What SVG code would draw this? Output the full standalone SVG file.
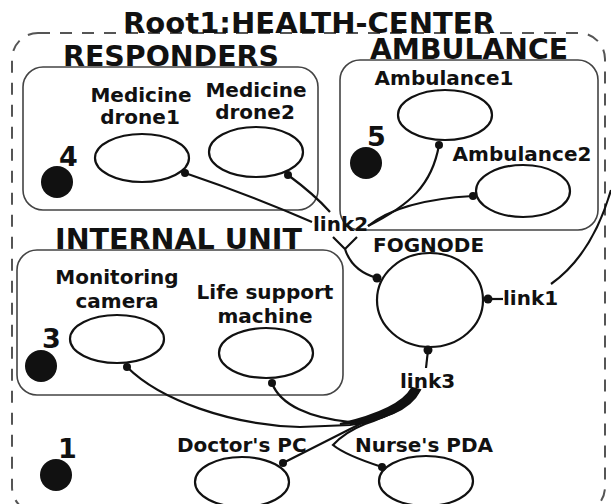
<svg xmlns="http://www.w3.org/2000/svg" width="611" height="504" viewBox="0 0 611 504">
<style>
text{font-family:"DejaVu Sans","Liberation Sans",sans-serif;font-weight:bold;fill:#111}
.t{font-size:28.5px}
.l{font-size:20px}
.n{font-size:27px}
.box{fill:none;stroke:#444;stroke-width:1.6}
.ell{fill:#fff;stroke:#111;stroke-width:2.2}
.c{fill:none;stroke:#111;stroke-width:2.2}
.d{fill:#111}
</style>
<rect width="611" height="504" fill="#fff"/>
<g id="root">
<rect x="12" y="33" width="593" height="480" rx="26" fill="none" stroke="#555" stroke-width="2" stroke-dasharray="12,10"/>
<text class="t" x="123" y="33" textLength="372" lengthAdjust="spacingAndGlyphs">Root1:HEALTH-CENTER</text>
<circle class="d" cx="56" cy="475" r="16"/>
<text class="n" x="58" y="458">1</text>
</g>
<g id="responders">
<rect class="box" x="23" y="67" width="295" height="143" rx="20"/>
<text class="t" x="63" y="66" textLength="216" lengthAdjust="spacingAndGlyphs">RESPONDERS</text>
<circle class="d" cx="57" cy="182" r="16"/>
<text class="n" x="59" y="166">4</text>
</g>
<g id="ambulance">
<rect class="box" x="340" y="60" width="258" height="170" rx="20"/>
<text class="t" x="370" y="59" textLength="198" lengthAdjust="spacingAndGlyphs">AMBULANCE</text>
<circle class="d" cx="366" cy="163" r="16"/>
<text class="n" x="367" y="146">5</text>
</g>
<g id="internal">
<rect class="box" x="17" y="250" width="326" height="145" rx="20"/>
<text class="t" x="55" y="249" textLength="247" lengthAdjust="spacingAndGlyphs">INTERNAL UNIT</text>
<circle class="d" cx="41" cy="366" r="16"/>
<text class="n" x="42" y="348">3</text>
</g>
<g id="connectors">
<path class="c" d="M185,173 Q250,195 312,222"/>
<path class="c" d="M288,175 Q315,195 330,212"/>
<path class="c" d="M439,145 C432,185 410,205 368,226"/>
<path class="c" d="M473,196 Q400,200 368,226"/>
<path class="c" d="M333,237 L345,249 M357,237 L345,249"/>
<path class="c" d="M345,249 Q352,271 377,278" stroke-width="4.5"/>
<path class="c" d="M488,299 L503,299"/>
<path class="c" d="M551,284 Q592,255 611,190"/>
<path class="c" d="M428,350 L426,368" stroke-width="5"/>
<path class="c" d="M127,367 C160,400 230,425 300,427 L350,425 Q400,418 418,392"/>
<path class="c" d="M272,383 C280,405 310,418 350,422 Q400,415 418,392"/>
<path class="c" d="M283,463 L360,424 Q405,410 418,392"/>
<path class="c" d="M382,467 Q345,455 333,445 Q345,432 365,424 Q405,410 418,392"/>
<path d="M420,390 Q405,420 340,424 Q400,410 412,388 Z" fill="#111" stroke="#111" stroke-width="2"/>
</g>
<g id="drone1">
<ellipse class="ell" cx="142" cy="158" rx="47" ry="24"/>
<text class="l" x="141" y="102" text-anchor="middle">Medicine</text>
<text class="l" x="140" y="124" text-anchor="middle">drone1</text>
<circle class="d" cx="185" cy="173" r="4"/>
</g>
<g id="drone2">
<ellipse class="ell" cx="256" cy="152" rx="47" ry="25"/>
<text class="l" x="256" y="97" text-anchor="middle">Medicine</text>
<text class="l" x="255" y="119" text-anchor="middle">drone2</text>
<circle class="d" cx="288" cy="175" r="4"/>
</g>
<g id="ambulance1">
<ellipse class="ell" cx="445" cy="115" rx="47" ry="25"/>
<text class="l" x="444" y="85" text-anchor="middle">Ambulance1</text>
<circle class="d" cx="439" cy="145" r="4"/>
</g>
<g id="ambulance2">
<ellipse class="ell" cx="523" cy="191" rx="47" ry="26"/>
<text class="l" x="522" y="161" text-anchor="middle">Ambulance2</text>
<circle class="d" cx="473" cy="196" r="4"/>
</g>
<g id="link2"><text class="l" x="313" y="231">link2</text></g>
<g id="fognode">
<ellipse class="ell" cx="430" cy="300" rx="53" ry="47"/>
<text class="l" x="373" y="252">FOGNODE</text>
<circle class="d" cx="377" cy="278" r="4.5"/>
<circle class="d" cx="488" cy="299" r="4.5"/>
<circle class="d" cx="428" cy="350" r="4.5"/>
</g>
<g id="link1"><text class="l" x="503" y="305">link1</text></g>
<g id="link3"><text class="l" x="400" y="388">link3</text></g>
<g id="camera">
<ellipse class="ell" cx="117" cy="339" rx="47" ry="24"/>
<text class="l" x="117" y="284" text-anchor="middle">Monitoring</text>
<text class="l" x="117" y="308" text-anchor="middle">camera</text>
<circle class="d" cx="127" cy="367" r="4"/>
</g>
<g id="lifesupport">
<ellipse class="ell" cx="266" cy="353" rx="47" ry="25"/>
<text class="l" x="265" y="299" text-anchor="middle">Life support</text>
<text class="l" x="265" y="323" text-anchor="middle">machine</text>
<circle class="d" cx="272" cy="383" r="4"/>
</g>
<g id="doctor">
<ellipse class="ell" cx="242" cy="482" rx="47" ry="25"/>
<text class="l" x="177" y="452">Doctor's PC</text>
<circle class="d" cx="283" cy="463" r="4"/>
</g>
<g id="nurse">
<ellipse class="ell" cx="426" cy="481" rx="47" ry="25"/>
<text class="l" x="355" y="452">Nurse's PDA</text>
<circle class="d" cx="382" cy="467" r="4"/>
</g>
</svg>
